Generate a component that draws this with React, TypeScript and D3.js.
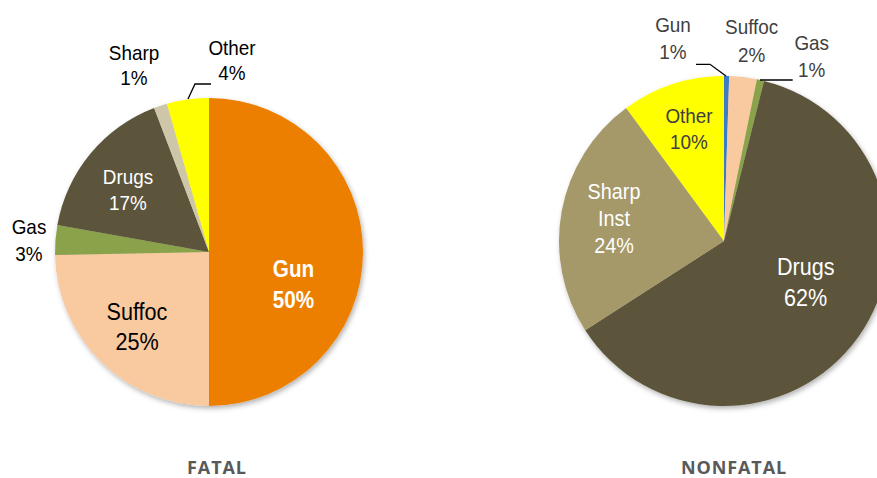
import React from "react";
import * as d3 from "d3";

// ---------- data ----------
const fatalCategories = ["Gun", "Suffoc", "Gas", "Drugs", "Sharp", "Other"];
const fatalValues = [50, 24.7, 3.1, 16.4, 1.4, 4.4];
const fatalLabels = ["50%", "25%", "3%", "17%", "1%", "4%"];

const nonfatalCategories = ["Gun", "Suffoc", "Gas", "Drugs", "Sharp Inst", "Other"];
const nonfatalValues = [0.5, 2.7, 0.7, 62, 24, 10.1];
const nonfatalLabels = ["1%", "2%", "1%", "62%", "24%", "10%"];

const chartTitles = ["FATAL", "NONFATAL"];

// ---------- styles / layout ----------
const fatalColors = ["#EC7F03", "#F9C9A0", "#8AA24A", "#5C553A", "#CDC6A8", "#FFFF00"];
const nonfatalColors = ["#3D7CC2", "#F9C9A0", "#8AA24A", "#5C553A", "#A59869", "#FFFF00"];

type LabelLayout = {
  x: number; y: number; size: number; lh: number; color: string; bold?: boolean; lines?: string[];
};

const fatalLayout: LabelLayout[] = [
  { x: 293.5, y: 276.7, size: 23, lh: 31, color: "#FFFFFF", bold: true },
  { x: 137, y: 320, size: 24, lh: 30.5, color: "#000000" },
  { x: 29, y: 234, size: 21, lh: 27.5, color: "#000000" },
  { x: 128, y: 184, size: 21, lh: 26, color: "#FFFFFF" },
  { x: 134, y: 60, size: 21, lh: 25, color: "#000000" },
  { x: 232, y: 55, size: 21, lh: 25, color: "#000000" },
];

const nonfatalLayout: LabelLayout[] = [
  { x: 673, y: 31.7, size: 21, lh: 27.5, color: "#404040" },
  { x: 751.7, y: 34.3, size: 21, lh: 27.5, color: "#404040" },
  { x: 811.7, y: 50, size: 21, lh: 27, color: "#404040" },
  { x: 805.7, y: 275, size: 24, lh: 31, color: "#FFFFFF" },
  { x: 614, y: 199.3, size: 22, lh: 27, color: "#FFFFFF", lines: ["Sharp", "Inst"] },
  { x: 689, y: 122.7, size: 21, lh: 26.6, color: "#404040" },
];

const fatalLeaders: [number, number][][] = [
  [[188, 99], [195, 84], [211, 84]],
];
const nonfatalLeaders: [number, number][][] = [
  [[726, 76], [710, 64.3], [696, 64.3]],
  [[760, 80], [792.7, 80]],
];

type PieProps = {
  cx: number; cy: number; r: number;
  categories: string[]; values: number[]; labels: string[];
  colors: string[]; layout: LabelLayout[]; leaders: [number, number][][];
  title: string; titleX: number;
};

function Pie(props: PieProps) {
  const { cx, cy, r, categories, values, labels, colors, layout, leaders, title, titleX } = props;
  const pie = d3.pie<number>().sort(null).value((d) => d)(values);
  const arc = d3.arc<d3.PieArcDatum<number>>().innerRadius(0).outerRadius(r);
  const line = d3.line();
  return (
    <g>
      <g transform={`translate(${cx},${cy})`} filter="url(#shadow)">
        {pie.map((p, i) => (
          <path key={i} d={arc(p) || ""} fill={colors[i]} />
        ))}
      </g>
      {leaders.map((pts, i) => (
        <path key={"l" + i} d={line(pts) || ""} fill="none" stroke="#000" strokeWidth={1.3} />
      ))}
      {categories.map((c, i) => {
        const L = layout[i];
        const lines = (L.lines || [c]).concat([labels[i]]);
        return (
          <g key={"t" + i} transform={`translate(${L.x},${L.y}) scale(0.9,1)`}>
            {lines.map((s, j) => (
              <text
                key={j}
                x={0}
                y={j * L.lh}
                textAnchor="middle"
                fontFamily="'Liberation Sans', Arial, sans-serif"
                fontSize={L.size}
                fontWeight={L.bold ? "bold" : "normal"}
                fill={L.color}
              >
                {s}
              </text>
            ))}
          </g>
        );
      })}
      <text
        x={titleX}
        y={474.3}
        textAnchor="middle"
        fontFamily="'Open Sans', sans-serif"
        fontWeight="bold"
        fontSize={18}
        letterSpacing={0.9}
        fill="#595959"
      >
        {title}
      </text>
    </g>
  );
}

export default function App() {
  return (
    <svg
      width={877}
      height={478}
      style={{ position: "absolute", left: 0, top: 0, background: "#fff" }}
    >
      <defs>
        <filter id="shadow" x="-20%" y="-20%" width="140%" height="140%">
          <feDropShadow dx="1.5" dy="2.5" stdDeviation="2.5" floodColor="#000" floodOpacity="0.3" />
        </filter>
      </defs>
      <rect width={877} height={478} fill="#fff" />
      <Pie
        cx={209} cy={252} r={154}
        categories={fatalCategories} values={fatalValues} labels={fatalLabels}
        colors={fatalColors} layout={fatalLayout} leaders={fatalLeaders}
        title={chartTitles[0]} titleX={217}
      />
      <Pie
        cx={724} cy={241} r={165}
        categories={nonfatalCategories} values={nonfatalValues} labels={nonfatalLabels}
        colors={nonfatalColors} layout={nonfatalLayout} leaders={nonfatalLeaders}
        title={chartTitles[1]} titleX={734}
      />
    </svg>
  );
}
